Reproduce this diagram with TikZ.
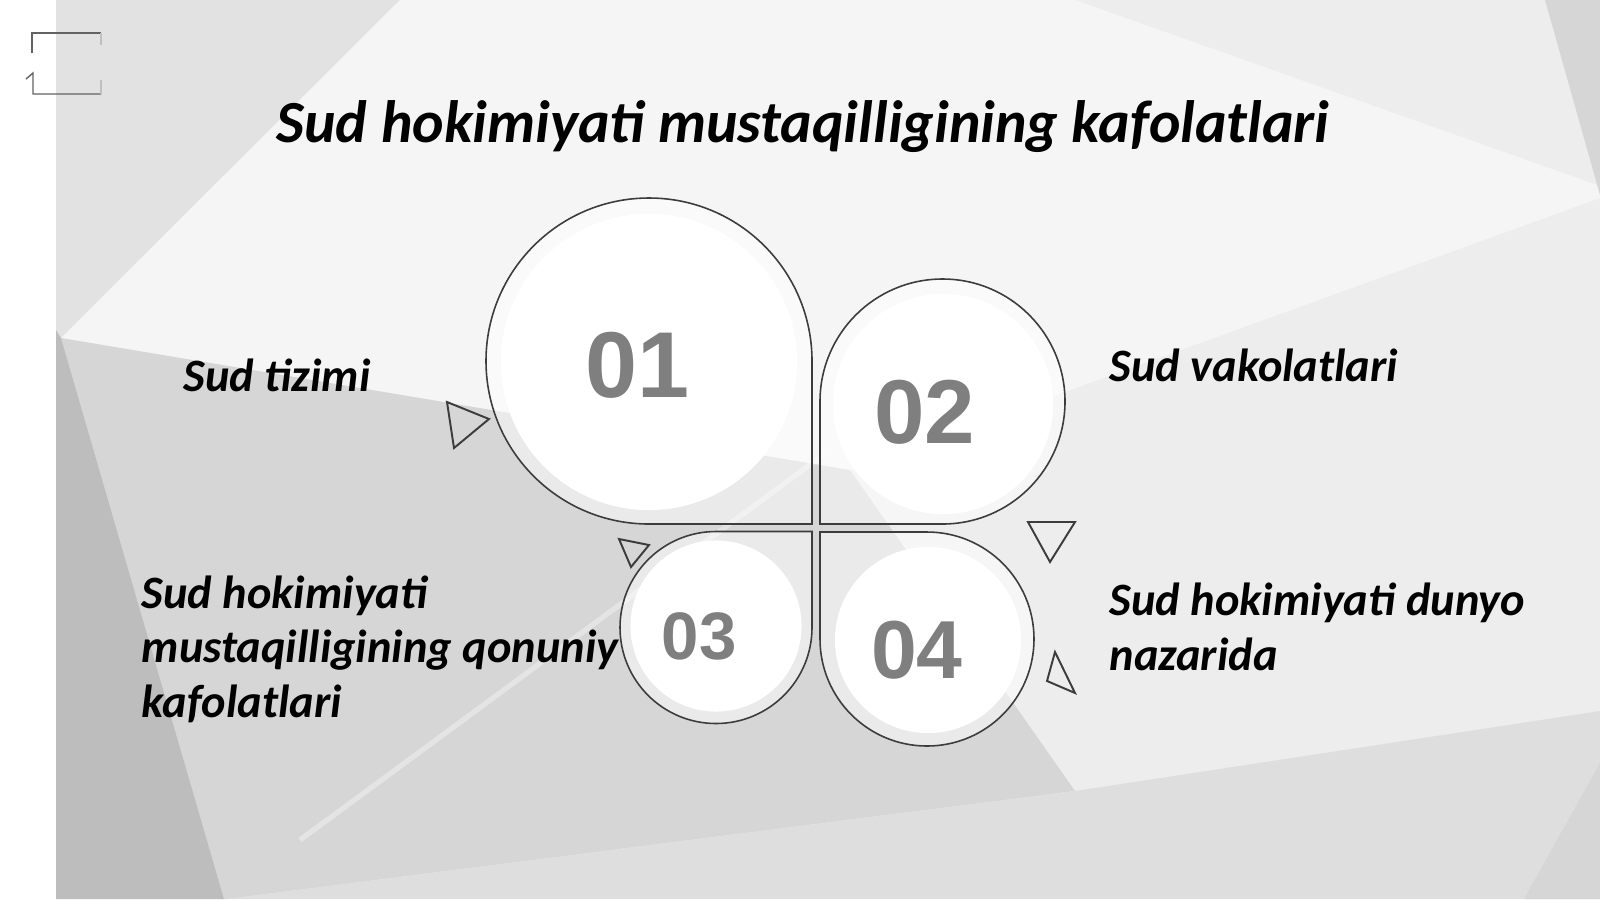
\documentclass[tikz,border=0pt]{standalone}
\usepackage{fontspec}
\setmainfont{Carlito}
\newfontfamily\numfont{Liberation Sans}

\definecolor{numgray}{HTML}{7F7F7F}
\definecolor{rimgray}{HTML}{3C3C3C}
\definecolor{bgbase}{HTML}{EDEDED}
\definecolor{bgtop}{HTML}{E2E2E2}
\definecolor{bglight}{HTML}{F5F5F5}
\definecolor{bgmid}{HTML}{D6D6D6}
\definecolor{bgdark}{HTML}{BDBDBD}
\definecolor{bglow}{HTML}{DEDEDE}

\begin{document}
\begin{tikzpicture}[x = 0.01cm, y = -0.01cm,
                        petal/.style = {draw = rimgray, line width = 0.45pt, fill = white, fill opacity = 0.5},
                        disc/.style = {circle, fill = white, inner sep = 0pt},
                        num/.style = {text = numgray, inner sep = 0pt},
                        lbl/.style = {anchor = base west, inner sep = 0pt, align = left,
                                      font = \bfseries\itshape\fontsize{13.2}{15.5}\selectfont},
                        tri/.style = {draw = rimgray, line width = 0.55pt}]
      \useasboundingbox (0, 0) rectangle (1600, 899);
      % background
      \fill [white] (0, 0) rectangle (56, 899);
      \fill [bgbase] (56, 0) rectangle (1600, 899);
      \fill [bgtop] (56, 0) -- (400, 0) -- (61, 338) -- (56, 338) -- cycle;
      \fill [bglight] (61, 338) -- (400, 0) -- (640, 0) -- cycle;
      \fill [bglight] (640, 0) -- (1075, 0) -- (1600, 186) -- (1600, 198) -- (850, 470) -- (61, 338) -- cycle;
      \fill [bgmid] (61, 338) -- (850, 470) -- (1075, 791) -- (227, 899) -- (224, 899) -- cycle;
      \fill [bgdark] (56, 330) -- (61, 338) -- (224, 899) -- (56, 899) -- cycle;
      \fill [bglow] (227, 899) -- (1075, 791) -- (1600, 711) -- (1600, 899) -- cycle;
      \fill [bgmid] (1545, 0) -- (1600, 0) -- (1600, 195) -- cycle;
      \fill [bgmid] (1600, 763) -- (1524, 899) -- (1600, 899) -- cycle;
      \draw [white, line width = 1.5pt, opacity = 0.35] (300, 840) -- (830, 450);
      % corner frame
      \draw [rimgray!80, line width = 0.4pt] (32, 53) -- (32, 33) -- (101, 33);
      \draw [rimgray!80, line width = 0.4pt] (26, 79) -- (33, 73) -- (33, 94) -- (101, 94);
      \draw [gray!50, line width = 0.4pt] (101, 33) -- (101, 45);
      \draw [gray!50, line width = 0.4pt] (101, 80) -- (101, 94);
      % petals
      \draw [petal] (649, 524) arc [start angle = 90, end angle = 360, radius = 163] -- (812, 524) -- cycle;
      \draw [petal] (820, 401.5) arc [start angle = 180, end angle = 450, radius = 122.5] -- (820, 524) -- cycle;
      \draw [petal] (812, 627.5) arc [start angle = 0, end angle = 270, radius = 96] -- (812, 531.5) -- cycle;
      \draw [petal] (927, 532) arc [start angle = 270, end angle = 540, radius = 107] -- (820, 532) -- cycle;
      \node [disc, minimum size = 2.96cm] (d1) at (649, 362){};
      \node [disc, minimum size = 2.20cm] (d2) at (943, 404){};
      \node [disc, minimum size = 1.71cm] (d3) at (716, 626){};
      \node [disc, minimum size = 1.86cm] (d4) at (928, 640){};
      \node [num, font = \numfont\bfseries\fontsize{26.6}{30}\selectfont] (n1) at (638, 365){01};
      \node [num, font = \numfont\bfseries\fontsize{25.8}{30}\selectfont] (n2) at (925, 412){02};
      \node [num, font = \numfont\bfseries\fontsize{19.1}{22}\selectfont] (n3) at (699, 636){03};
      \node [num, font = \numfont\bfseries\fontsize{23.4}{27}\selectfont] (n4) at (917, 650){04};
      % pointers
      \draw [tri] (447, 402) -- (489, 419) -- (454, 448) -- cycle;
      \draw [tri] (619, 539) -- (649, 545) -- (631, 567) -- cycle;
      \draw [tri] (1028, 522) -- (1075, 522) -- (1050, 562) -- cycle;
      \draw [tri] (1055, 652) -- (1047, 681) -- (1075, 693) -- cycle;
      % texts (multi-line nodes sit on their last baseline)
      \node [anchor = base, inner sep = 0pt, font = \bfseries\itshape\fontsize{17}{20}\selectfont] (title) at (803, 142.5){Sud hokimiyati mustaqilligining kafolatlari};
      \node [lbl] (l1) at (183, 391.7){Sud tizimi};
      \node [lbl] (l2) at (1109, 381.7){Sud vakolatlari};
      \node [lbl] (l3) at (141, 717){Sud hokimiyati\\mustaqilligining qonuniy\\kafolatlari};
      \node [lbl] (l4) at (1109, 670){Sud hokimiyati dunyo\\nazarida};
    \end{tikzpicture}
\end{document}
